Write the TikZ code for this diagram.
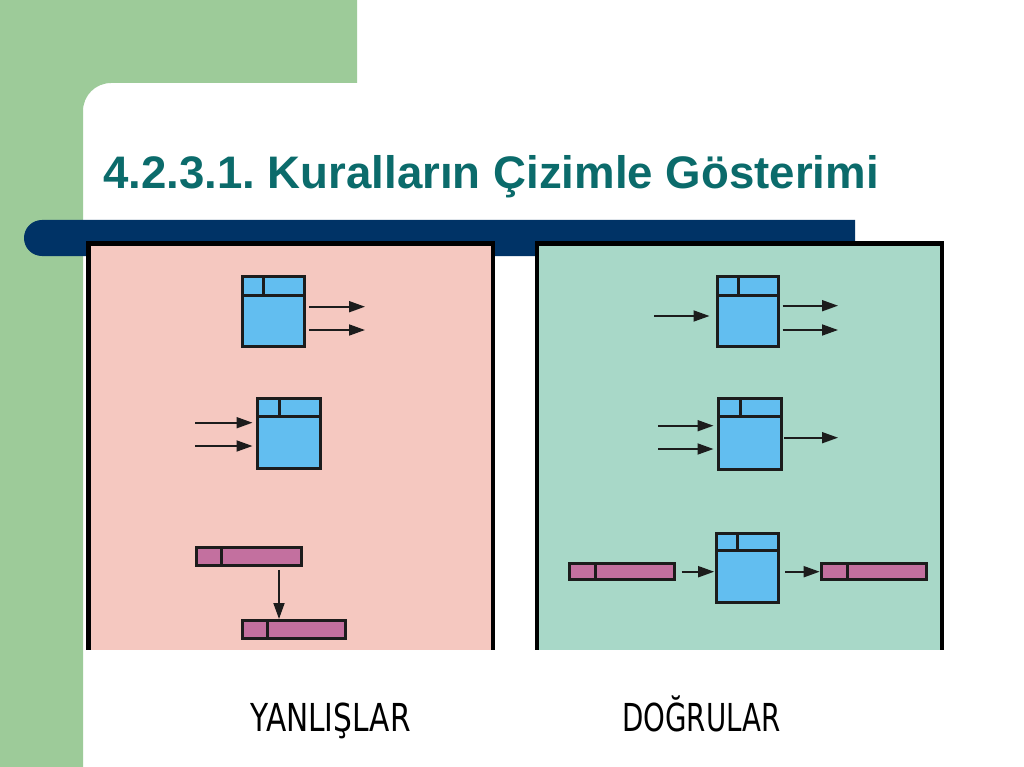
\documentclass[tikz,border=0pt]{standalone}
\usepackage{fontspec}
\setmainfont{Liberation Sans}
\newfontfamily\labelfont{DejaVu Sans}
\usetikzlibrary{arrows.meta,calc}
\frenchspacing
\definecolor{slidegreen}{HTML}{9DCB99}
\definecolor{navy}{HTML}{003366}
\definecolor{titleteal}{HTML}{0B6B6B}
\definecolor{panelpink}{HTML}{F5C8C0}
\definecolor{panelteal}{HTML}{A8D8C8}
\definecolor{boxblue}{HTML}{62BEF0}
\definecolor{barpurple}{HTML}{C3709F}
\definecolor{linec}{HTML}{1C1C1C}
\newcommand\boxdiv[3]{%
  \draw[divline] ([yshift=-#2pt]#1.north west) -- ([yshift=-#2pt]#1.north east);
  \draw[divline] ([xshift=#3pt]#1.north west) -- ([xshift=#3pt,yshift=-#2pt]#1.north west);}
\newcommand\bardiv[2]{%
  \draw[divline] ([xshift=#2pt]#1.north west) -- ([xshift=#2pt]#1.south west);}
\begin{document}
\begin{tikzpicture}[x=1pt,y=-1pt,
  bluebox/.style={draw=linec, line width=3.3pt, fill=boxblue, rectangle, inner sep=0pt, outer sep=0pt},
  purplebar/.style={draw=linec, line width=3pt, fill=barpurple, rectangle, inner sep=0pt, outer sep=0pt},
  divline/.style={draw=linec, line width=3pt},
  arr/.style={draw=linec, line width=1.8pt, -{Triangle[length=16pt,width=11pt]}},
  titletext/.style={font=\bfseries\fontsize{45.6}{52}\selectfont, text=titleteal, inner sep=0pt, anchor=base west},
  labeltext/.style={font=\labelfont\fontsize{38.5}{42}\selectfont, text=black, inner sep=0pt, anchor=base west}]
\useasboundingbox (0,0) rectangle (1024,767);
\fill[white] (0,0) rectangle (1024,767);
% green slide frame
\fill[slidegreen] (0,0) -- (357,0) -- (357,83) -- (111,83)
  .. controls (95.5,83) and (83,95.5) .. (83,111) -- (83,767) -- (0,767) -- cycle;
% navy bar
\fill[navy] (42,220) -- (855,220) -- (855,256) -- (42,256)
  .. controls (32,256) and (24,248) .. (24,238)
  .. controls (24,228) and (32,220) .. (42,220) -- cycle;
% title
\node[titletext] (title) at (103,189) {4.2.3.1. Kuralların Çizimle Gösterimi};
% panels
\fill[black] (86,241) rectangle (494.5,650);
\fill[panelpink] (90.5,245.5) rectangle (490.5,650);
\fill[black] (535,241) rectangle (944,650);
\fill[panelteal] (539,245.5) rectangle (940,650);
% ---------- left panel ----------
\node[bluebox, minimum width=62pt, minimum height=70pt] (L1) at (273.2,311.5) {};
\boxdiv{L1}{18.5}{20.8}
\node[bluebox, minimum width=63pt, minimum height=70.3pt] (L2) at (289,433.3) {};
\boxdiv{L2}{18.5}{21.5}
\node[purplebar, minimum width=104.7pt, minimum height=17.7pt] (P1) at (248.8,556.3) {};
\bardiv{P1}{25.5}
\node[purplebar, minimum width=103pt, minimum height=18pt] (P2) at (293.7,629.5) {};
\bardiv{P2}{24.8}
\coordinate (l1o1) at (365,306.7);
\coordinate (l1o2) at (365,330);
\draw[arr, shorten <=4.8pt] (L1.east |- l1o1) -- (l1o1);
\draw[arr, shorten <=4.8pt] (L1.east |- l1o2) -- (l1o2);
\coordinate (l2i1) at (195,422.7);
\coordinate (l2i2) at (195,446);
\draw[arr, shorten >=5pt] (l2i1) -- (L2.west |- l2i1);
\draw[arr, shorten >=5pt] (l2i2) -- (L2.west |- l2i2);
\coordinate (pv) at (279,600);
\draw[arr, shorten <=4.8pt, shorten >=1.5pt] (P1.south -| pv) -- (P2.north -| pv);
% ---------- right panel ----------
\node[bluebox, minimum width=61pt, minimum height=70pt] (R1) at (748,311.5) {};
\boxdiv{R1}{18.5}{20.5}
\node[bluebox, minimum width=63pt, minimum height=70.7pt] (R2) at (750,433.8) {};
\boxdiv{R2}{18.5}{22}
\node[bluebox, minimum width=62.3pt, minimum height=69.3pt] (R3) at (747.3,567.8) {};
\boxdiv{R3}{17.5}{21.8}
\node[purplebar, minimum width=105pt, minimum height=16pt] (P3) at (622,571.5) {};
\bardiv{P3}{25.5}
\node[purplebar, minimum width=104.7pt, minimum height=16pt] (P4) at (873.8,571.5) {};
\bardiv{P4}{26.2}
\coordinate (r1i) at (654,316);
\draw[arr, shorten >=8pt] (r1i) -- (R1.west |- r1i);
\coordinate (r1o1) at (838,305.7);
\coordinate (r1o2) at (838,330);
\draw[arr, shorten <=4.2pt] (R1.east |- r1o1) -- (r1o1);
\draw[arr, shorten <=4.2pt] (R1.east |- r1o2) -- (r1o2);
\coordinate (r2i1) at (658,425.7);
\coordinate (r2i2) at (658,449);
\draw[arr, shorten >=5pt] (r2i1) -- (R2.west |- r2i1);
\draw[arr, shorten >=5pt] (r2i2) -- (R2.west |- r2i2);
\coordinate (r2o) at (838,437.7);
\draw[arr, shorten <=2.5pt] (R2.east |- r2o) -- (r2o);
\coordinate (row3) at (700,571.7);
\draw[arr, shorten <=7pt, shorten >=2pt] (P3.east |- row3) -- (R3.west |- row3);
\draw[arr, shorten <=7pt, shorten >=1.8pt] (R3.east |- row3) -- (P4.west |- row3);
% labels
\node[labeltext] (wrong) at (250,731) {\scalebox{0.77}[1]{YANLIŞLAR}};
\node[labeltext] (right) at (622,731) {\scalebox{0.72}[1]{DOĞRULAR}};
\end{tikzpicture}
\end{document}
